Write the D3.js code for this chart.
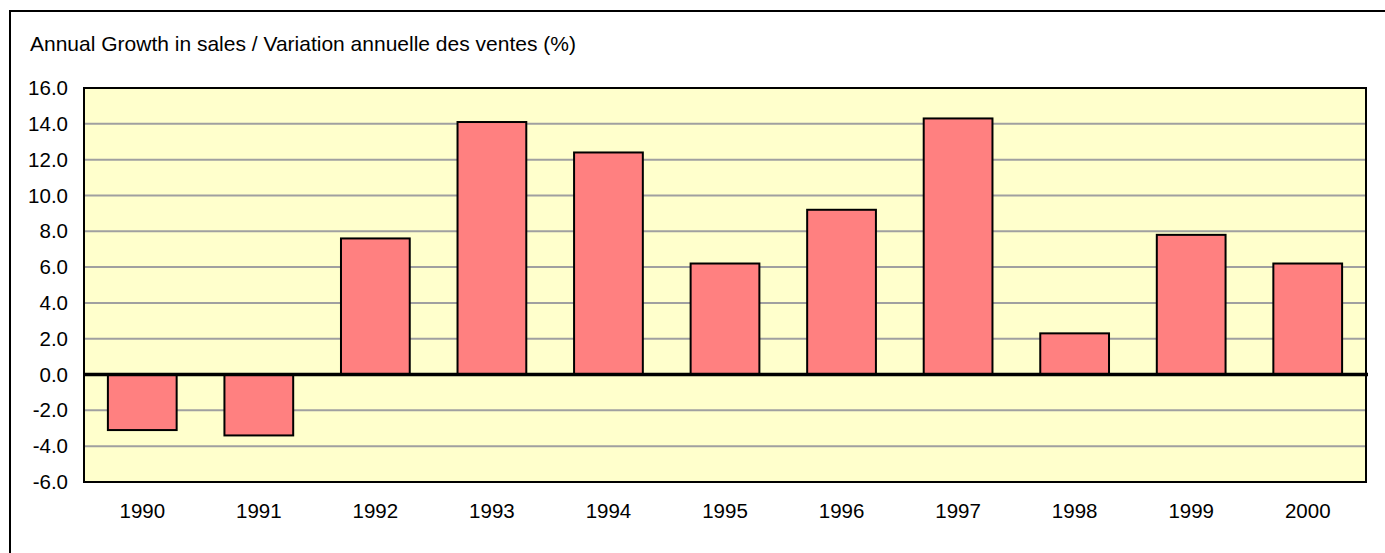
<!DOCTYPE html>
<html>
<head>
<meta charset="utf-8">
<script src="https://cdn.jsdelivr.net/npm/d3@7"></script>
<style>
  body { margin: 0; background: #fff; }
  svg { display: block; font-family: Arial, "Liberation Sans", sans-serif; }
</style>
</head>
<body>
<svg id="chart"></svg>
<script>
const years = ["1990", "1991", "1992", "1993", "1994", "1995", "1996", "1997", "1998", "1999", "2000"];
const growth = [-3.1, -3.4, 7.6, 14.1, 12.4, 6.2, 9.2, 14.3, 2.3, 7.8, 6.2];
const yTicks = [-6, -4, -2, 0, 2, 4, 6, 8, 10, 12, 14, 16];
const title = "Annual Growth in sales / Variation annuelle des ventes (%)";

const width = 1385;
const height = 553;
const margin = { top: 88, right: 19, bottom: 71, left: 84 };
const fontSize = 20.5;

const svg = d3.select("#chart").attr("width", width).attr("height", height);

// outer frame (clipped at right and bottom like the source)
svg.append("rect")
  .attr("x", 10).attr("y", 11)
  .attr("width", width + 20).attr("height", height + 20)
  .attr("fill", "#fff").attr("stroke", "#000").attr("stroke-width", 2);

svg.append("text")
  .attr("x", 30).attr("y", 51)
  .attr("font-size", 21)
  .attr("fill", "#000")
  .text(title);

const x = d3.scaleBand()
  .domain(years)
  .range([margin.left, width - margin.right])
  .paddingInner(0.41)
  .paddingOuter(0.205);

const y = d3.scaleLinear()
  .domain([-6, 16])
  .range([height - margin.bottom, margin.top]);

// plot background
svg.append("rect")
  .attr("x", margin.left).attr("y", margin.top)
  .attr("width", width - margin.left - margin.right)
  .attr("height", height - margin.top - margin.bottom)
  .attr("fill", "#FFFFCC");

// gridlines
svg.append("g")
  .selectAll("line")
  .data(yTicks.filter(d => d !== 0 && d !== 16 && d !== -6))
  .join("line")
  .attr("x1", margin.left).attr("x2", width - margin.right)
  .attr("y1", d => y(d)).attr("y2", d => y(d))
  .attr("stroke", "#A0A0A0").attr("stroke-width", 2);

// bars
svg.append("g")
  .selectAll("rect")
  .data(growth)
  .join("rect")
  .attr("x", (d, i) => x(years[i]))
  .attr("width", x.bandwidth())
  .attr("y", d => y(Math.max(0, d)))
  .attr("height", d => Math.abs(y(d) - y(0)))
  .attr("fill", "#FF8080")
  .attr("stroke", "#000")
  .attr("stroke-width", 2);

// plot border
svg.append("rect")
  .attr("x", margin.left).attr("y", margin.top)
  .attr("width", width - margin.left - margin.right)
  .attr("height", height - margin.top - margin.bottom)
  .attr("fill", "none")
  .attr("stroke", "#000").attr("stroke-width", 2);

// zero line
svg.append("line")
  .attr("x1", margin.left - 1).attr("x2", width - margin.right + 2)
  .attr("y1", y(0)).attr("y2", y(0))
  .attr("stroke", "#000").attr("stroke-width", 3.5);

// y axis labels
const yAxis = d3.axisLeft(y).tickValues(yTicks).tickFormat(d => d.toFixed(1)).tickSize(0).tickPadding(16);
const gy = svg.append("g").attr("transform", `translate(${margin.left},0)`).call(yAxis);
gy.select(".domain").remove();
gy.selectAll("text").attr("font-size", fontSize).attr("fill", "#000").attr("font-family", "Arial, 'Liberation Sans', sans-serif");

// x axis labels
const xAxis = d3.axisBottom(x).tickSize(0).tickPadding(21);
const gx = svg.append("g").attr("transform", `translate(0,${height - margin.bottom})`).call(xAxis);
gx.select(".domain").remove();
gx.selectAll("text").attr("font-size", fontSize).attr("fill", "#000").attr("font-family", "Arial, 'Liberation Sans', sans-serif");
</script>
</body>
</html>
